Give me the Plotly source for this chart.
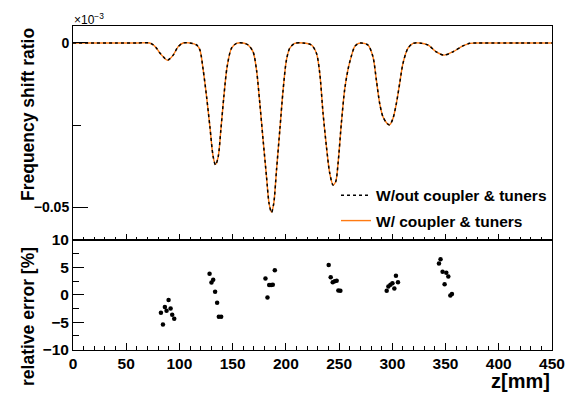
import plotly.graph_objects as go

# ---------------- data ----------------
z_curve = [0, 20, 40, 60, 72, 75.5, 78.5, 81.5, 84.8, 88.9, 94.1, 98.8, 103.5, 109.8,
           116.1, 119.2, 122.3, 125.5, 128.6, 131.7, 133.9, 136.4, 138.9, 141.7, 144.8,
           148.9, 153.6, 159.8, 164.5, 169.2, 172.4, 175.5, 178.6, 181.8, 184.2, 186.5,
           188.6, 191.2, 194.3, 197.4, 200.5, 203.6, 208.3, 216.1, 224.0, 228.7, 231.8,
           234.9, 238.1, 241.2, 244.3, 246.8, 249.0, 252.1, 255.3, 258.4, 261.5, 264.6,
           267.7, 270.9, 277.1, 281.8, 285.0, 288.1, 291.2, 295.0, 297.5, 300.6, 303.8,
           306.9, 310.0, 314.7, 319.4, 325.6, 333.4, 341.3, 348.4, 356.9, 366.2, 372.6,
           380.4, 400, 420, 450]
ratio_without = [0, 0, 0, 0, 0, -0.0006, -0.0016, -0.0030, -0.0042, -0.0052, -0.0037,
                 -0.0011, 0, 0, -0.0006, -0.0021, -0.0082, -0.0164, -0.0255, -0.0347,
                 -0.0372, -0.0347, -0.0265, -0.0164, -0.0072, -0.0016, -0.0001, 0, -0.0006,
                 -0.0027, -0.0082, -0.0184, -0.0296, -0.0408, -0.0489, -0.0517, -0.0489,
                 -0.0387, -0.0265, -0.0143, -0.0052, -0.0016, -0.0001, 0, -0.0006, -0.0031,
                 -0.0092, -0.0214, -0.0316, -0.0397, -0.0433, -0.0423, -0.0367, -0.0245,
                 -0.0140, -0.0080, -0.0040, -0.0011, -0.0002, 0, -0.0006, -0.0042, -0.0113,
                 -0.0184, -0.0225, -0.0245, -0.0250, -0.0230, -0.0184, -0.0123, -0.0062,
                 -0.0016, -0.0001, 0, -0.0006, -0.0027, -0.0037, -0.0027, -0.0009, -0.0001,
                 0, 0, 0, 0]
ratio_with = [0, 0, 0, 0, 0, -0.0006, -0.0016, -0.0030, -0.0042, -0.0053, -0.0037,
              -0.0011, 0, 0, -0.0006, -0.0021, -0.0082, -0.0164, -0.0255, -0.0347,
              -0.0370, -0.0347, -0.0265, -0.0164, -0.0072, -0.0016, -0.0001, 0, -0.0006,
              -0.0027, -0.0082, -0.0184, -0.0296, -0.0408, -0.0489, -0.0516, -0.0489,
              -0.0387, -0.0265, -0.0143, -0.0052, -0.0016, -0.0001, 0, -0.0006, -0.0031,
              -0.0092, -0.0214, -0.0316, -0.0397, -0.0432, -0.0423, -0.0367, -0.0245,
              -0.0140, -0.0080, -0.0040, -0.0011, -0.0002, 0, -0.0006, -0.0042, -0.0113,
              -0.0184, -0.0225, -0.0245, -0.0249, -0.0230, -0.0184, -0.0123, -0.0062,
              -0.0016, -0.0001, 0, -0.0006, -0.0027, -0.0037, -0.0027, -0.0009, -0.0001,
              0, 0, 0, 0]

z_err = [82.6, 84.5, 86.3, 87.9, 89.8, 91.7, 93.2, 95.1,
         128.3, 130.1, 131.7, 133.5, 135.4, 137.0, 139.2,
         180.8, 182.7, 184.3, 186.1, 187.7, 189.6,
         240.2, 242.1, 244.0, 245.9, 247.7, 249.3, 251.2,
         294.7, 296.3, 298.2, 300.1, 301.9, 303.4, 305.3,
         343.8, 345.3, 347.2, 349.1, 350.7, 352.6, 354.5, 356.0]
rel_err = [-3.27, -5.45, -2.24, -2.90, -0.97, -2.50, -3.64, -4.40,
           3.82, 2.24, 2.73, 0.55, -1.45, -4.00, -4.00,
           2.97, -0.48, 1.76, 1.76, 1.82, 4.48,
           5.45, 3.21, 2.30, 2.48, 2.55, 0.79, 0.73,
           0.73, 1.52, 1.82, 2.12, 1.15, 3.45, 2.30,
           5.70, 6.48, 4.18, 1.94, 4.00, 3.33, -0.12, 0.12]

x_ticks = [0, 50, 100, 150, 200, 250, 300, 350, 400, 450]
top_y_ticks = [0, -0.05]
top_y_labels = ["0", "\u22120.05"]
bot_y_ticks = [10, 5, 0, -5, -10]
bot_y_labels = ["10", "5", "0", "\u22125", "\u221210"]

label_without = "W/out coupler & tuners"
label_with = "W/ coupler & tuners"

# ---------------- layout geometry (pixels) ----------------
W, H = 570, 394
def px_x(p):
    return p / W
def px_y(p):
    return (H - p) / H

FONT = "Liberation Sans"
ORANGE = "#ff7a12"

fig = go.Figure()

fig.add_trace(go.Scatter(x=z_curve, y=ratio_with, mode="lines", name=label_with,
                         line=dict(color=ORANGE, width=1.4, shape="spline", smoothing=0.8),
                         xaxis="x", yaxis="y", legend="legend2"))
fig.add_trace(go.Scatter(x=z_curve, y=ratio_without, mode="lines", name=label_without,
                         line=dict(color="black", width=1.5, dash="3px,3px",
                                   shape="spline", smoothing=0.8),
                         xaxis="x", yaxis="y", legend="legend"))
fig.add_trace(go.Scatter(x=z_err, y=rel_err, mode="markers", showlegend=False,
                         marker=dict(color="black", size=4.5),
                         xaxis="x2", yaxis="y2"))

x_dom = [px_x(73), px_x(552)]
tickfont_top = dict(family=FONT, size=14, color="black", weight="bold")
tickfont_bot = dict(family=FONT, size=15.5, color="black", weight="bold")

common_x = dict(range=[0, 450], domain=x_dom, showgrid=False, zeroline=False,
                showline=True, linecolor="black", linewidth=1, mirror=True,
                ticks="inside", tickcolor="black", tickwidth=1, automargin=False,
                tickvals=x_ticks)

fig.update_layout(
    template="none",
    width=W, height=H, autosize=False,
    margin=dict(l=0, r=0, t=0, b=0, pad=0),
    paper_bgcolor="white", plot_bgcolor="white",
    xaxis=dict(common_x, anchor="y", showticklabels=False, ticklen=6,
               minor=dict(dtick=10, tick0=0, ticklen=3, ticks="inside", tickcolor="black")),
    yaxis=dict(domain=[px_y(240), px_y(26)], range=[-0.06006, 0.00518], automargin=False,
               showgrid=False, zeroline=False, showline=True, linecolor="black",
               linewidth=1, mirror=True, ticks="inside", ticklen=15, tickcolor="black",
               tickvals=top_y_ticks, ticktext=top_y_labels, tickfont=tickfont_top,
               minor=dict(dtick=0.025, tick0=0, ticklen=8, ticks="inside", tickcolor="black"),
               anchor="x"),
    xaxis2=dict(common_x, anchor="y2", showticklabels=True, ticklen=7,
                ticktext=[str(v) for v in x_ticks], tickfont=tickfont_bot,
                minor=dict(dtick=10, tick0=0, ticklen=3.5, ticks="inside", tickcolor="black")),
    yaxis2=dict(domain=[px_y(349.5), px_y(240)], range=[-10, 10], automargin=False,
                showgrid=False, zeroline=False, showline=True, linecolor="black",
                linewidth=1, mirror=True, ticks="inside", ticklen=11, tickcolor="black",
                tickvals=bot_y_ticks, ticktext=bot_y_labels, tickfont=tickfont_bot,
                minor=dict(dtick=2.5, tick0=0, ticklen=5.5, ticks="inside", tickcolor="black"),
                anchor="x2"),
    legend=dict(x=px_x(336), y=px_y(195.7), xanchor="left", yanchor="middle",
                bgcolor="rgba(0,0,0,0)",
                font=dict(family=FONT, size=15.5, color="black", weight="bold")),
    legend2=dict(x=px_x(336), y=px_y(221), xanchor="left", yanchor="middle",
                 bgcolor="rgba(0,0,0,0)",
                 font=dict(family=FONT, size=15.5, color="black", weight="bold")),
    annotations=[
        dict(text="Frequency shift ratio", x=px_x(28), y=px_y(115), xref="paper", yref="paper",
             textangle=-90, showarrow=False, xanchor="center", yanchor="middle",
             font=dict(family=FONT, size=17.5, color="black", weight="bold")),
        dict(text="relative error [%]", x=px_x(28), y=px_y(317), xref="paper", yref="paper",
             textangle=-90, showarrow=False, xanchor="center", yanchor="middle",
             font=dict(family=FONT, size=17.5, color="black", weight="bold")),
        dict(text="z[mm]", x=px_x(552), y=px_y(381), xref="paper", yref="paper",
             showarrow=False, xanchor="right", yanchor="middle",
             font=dict(family=FONT, size=20, color="black", weight="bold")),
        dict(text="\u00d710<sup>\u22123</sup>", x=px_x(72), y=px_y(19), xref="paper", yref="paper",
             showarrow=False, xanchor="left", yanchor="middle",
             font=dict(family=FONT, size=12, color="black")),
    ],
)

fig.write_html("out.html",
               post_script="document.body.style.margin='0';document.body.style.overflow='hidden';")
